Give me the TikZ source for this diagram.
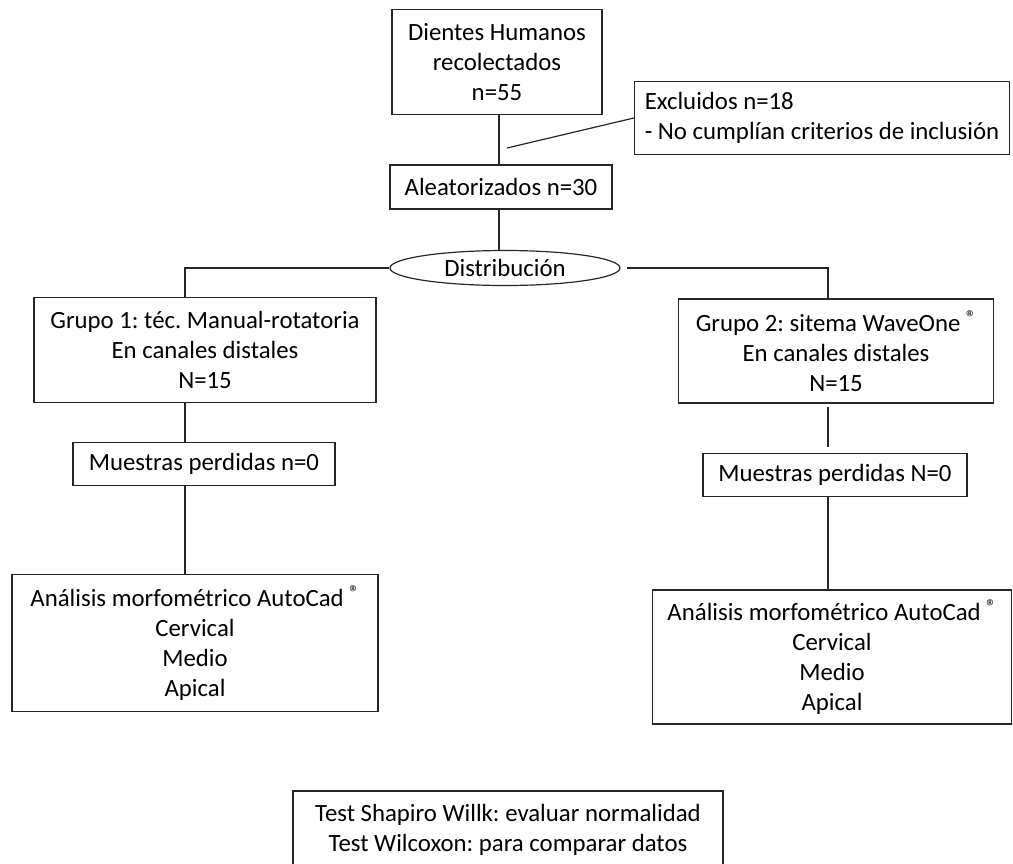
\documentclass[tikz,border=0pt]{standalone}
\usepackage{fontspec}
\setmainfont{Carlito}
\usetikzlibrary{shapes.geometric}
\frenchspacing
\newcommand{\regmark}{\raisebox{0.3em}{\fontsize{10}{10}\selectfont ®}}

\begin{document}
\begin{tikzpicture}[
    x=0.5pt, y=-0.5pt,
    box_style/.style={draw=black!85, line width=0.6pt, align=center, inner sep=0pt,
        font=\fontsize{12.4}{15}\selectfont},
    oval_style/.style={ellipse, draw=black!85, line width=0.6pt, inner sep=0pt,
        minimum width=115pt, minimum height=17.5pt, font=\fontsize{12.4}{15}\selectfont},
    line_style/.style={draw=black!85, line width=0.6pt}
]
    \useasboundingbox (0,0) rectangle (1013,863);

    % Top of the chart
    \node[box_style, minimum width=105pt, minimum height=52.5pt] (dientes) at (497,62)
        {Dientes Humanos\\recolectados\\n=55};
    \node[box_style, align=left, minimum width=187.5pt, minimum height=36.5pt] (excluidos) at (822,118)
        {Excluidos n=18\\- No cumplían criterios de inclusión};
    \node[box_style, minimum width=111pt, minimum height=22pt] (aleatorizados) at (501,187)
        {Aleatorizados n=30};
    \node[oval_style] (distribucion) at (505,268) {Distribución};

    % Group 1 (left)
    \node[box_style, minimum width=171pt, minimum height=52.5pt] (grupo_1) at (205,350)
        {Grupo 1: téc. Manual-rotatoria\\En canales distales\\N=15};
    \node[box_style, minimum width=131pt, minimum height=21.5pt] (perdidas_1) at (204,464)
        {Muestras perdidas n=0};
    \node[box_style, minimum width=183pt, minimum height=68.5pt] (analisis_1) at (195,643)
        {Análisis morfométrico AutoCad \regmark\\Cervical\\Medio\\Apical};

    % Group 2 (right)
    \node[box_style, minimum width=157.5pt, minimum height=52pt] (grupo_2) at (836,351)
        {Grupo 2: sitema WaveOne \regmark\\En canales distales\\N=15};
    \node[box_style, minimum width=132pt, minimum height=21.5pt] (perdidas_2) at (835,475)
        {Muestras perdidas N=0};
    \node[box_style, minimum width=179.5pt, minimum height=67pt] (analisis_2) at (832,657)
        {Análisis morfométrico AutoCad \regmark\\Cervical\\Medio\\Apical};

    % Statistics (cut at the bottom edge)
    \node[box_style, minimum width=215pt, minimum height=39pt] (pruebas) at (508,830)
        {Test Shapiro Willk: evaluar normalidad\\Test Wilcoxon: para comparar datos};

    % Connectors
    \coordinate (excl_join) at (507,148);
    \draw[line_style] (dientes.south -| 499,0) -- (aleatorizados.north -| 499,0);
    \draw[line_style] (excl_join) -- (excluidos.west);
    \draw[line_style] (aleatorizados.south -| 499,0) -- (distribucion.north -| 499,0);
    \draw[line_style] (distribucion.west) -| (grupo_1.north -| 185,0);
    \draw[line_style] ([xshift=3pt]distribucion.east) -| (grupo_2.north -| 828,0);
    \draw[line_style] (grupo_1.south -| 185,0) -- (perdidas_1.north -| 185,0);
    \draw[line_style] (perdidas_1.south -| 185,0) -- (analisis_1.north -| 185,0);
    \draw[line_style] ([yshift=-1.5pt]grupo_2.south -| 828,0) -- ([yshift=3pt]perdidas_2.north -| 828,0);
    \draw[line_style] (perdidas_2.south -| 828,0) -- (analisis_2.north -| 828,0);

\end{tikzpicture}
\end{document}
